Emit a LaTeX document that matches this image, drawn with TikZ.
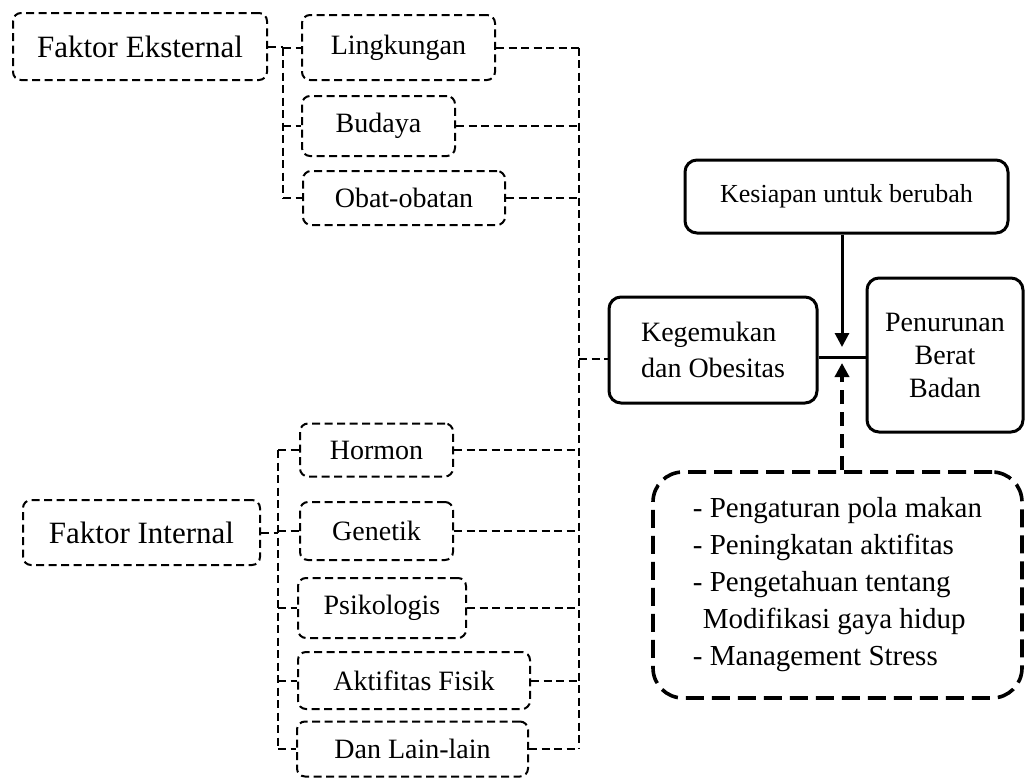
\documentclass[tikz,border=0pt]{standalone}
\usepackage{fontspec}
\setmainfont{Liberation Serif}
\usetikzlibrary{arrows.meta}

\tikzset{
  faktor/.style={draw, line width=2pt, dash pattern=on 8pt off 4.5pt, rounded corners=8pt, inner sep=0pt, font=\fontsize{31}{36}\selectfont},
  sub/.style={draw, line width=2pt, dash pattern=on 8pt off 4.5pt, rounded corners=8pt, inner sep=0pt},
  conn/.style={line width=2pt, dash pattern=on 8pt off 4.5pt},
  solidbox/.style={draw, line width=3pt, rounded corners=12pt, inner sep=0pt},
  bigbox/.style={draw, line width=3.6pt, dash pattern=on 18pt off 8pt, rounded corners=30pt, inner sep=0pt, align=left, font=\fontsize{29}{37}\selectfont},
  tip/.style={-{Triangle[length=14pt,width=14pt]}}
}

\begin{document}
\begin{tikzpicture}[x=1pt, y=-1pt, font=\fontsize{28}{36}\selectfont]
                \useasboundingbox (0,0) rectangle (1025,779);

                \node[faktor, minimum width=254pt, minimum height=67pt] (fe) at (140,46.5) {Faktor Eksternal};
                \node[sub, minimum width=193pt, minimum height=65pt] (ling) at (398.5,47.5) {Lingkungan};
                \node[sub, minimum width=153pt, minimum height=60pt] (bud) at (378.5,126) {Budaya};
                \node[sub, minimum width=202pt, minimum height=54pt] (obat) at (404,198) {Obat-obatan};

                \node[faktor, minimum width=237pt, minimum height=65pt] (fi) at (141.5,532.5) {Faktor Internal};
                \node[sub, minimum width=153pt, minimum height=53pt] (hor) at (376.5,450) {Hormon};
                \node[sub, minimum width=153pt, minimum height=58pt] (gen) at (376.5,531) {Genetik};
                \node[sub, minimum width=168pt, minimum height=60pt] (psi) at (382,608) {Psikologis};
                \node[sub, minimum width=232pt, minimum height=57pt] (akt) at (414,680.5) {Aktifitas Fisik};
                \node[sub, minimum width=231pt, minimum height=55pt] (dll) at (412.5,749) {Dan Lain-lain};

                \node[solidbox, minimum width=208pt, minimum height=106pt, align=left] (kegem) at (713,350) {Kegemukan\\dan Obesitas};
                \node[solidbox, minimum width=323pt, minimum height=73pt, font=\fontsize{26}{32}\selectfont] (kes) at (846.5,196.5) {Kesiapan untuk berubah};
                \node[solidbox, minimum width=156pt, minimum height=154pt, align=center, font=\fontsize{28}{33}\selectfont] (pen) at (945,355) {Penurunan\\Berat\\Badan};
                \node[bigbox, minimum width=369pt, minimum height=226pt] (act) at (837.5,585) {- Pengaturan pola makan\\- Peningkatan aktifitas\\- Pengetahuan tentang\\\hspace*{10pt}Modifikasi gaya hidup\\- Management Stress};

                \coordinate (el) at (283,0);
                \coordinate (il) at (278,0);
                \coordinate (rc) at (579,0);
                \coordinate (j) at (579,359);
                \coordinate (m) at (842,357);

                \draw[conn] (fe.east) -- (fe.east -| el);
                \draw[conn] (ling.west -| el) -- (obat.west -| el);
                \foreach \n in {ling,bud,obat}
                    \draw[conn] (\n.west -| el) -- (\n.west);

                \draw[conn] (fi.east) -- (fi.east -| il);
                \draw[conn] (hor.west -| il) -- (dll.west -| il);
                \foreach \n in {hor,gen,psi,akt,dll}
                    \draw[conn] (\n.west -| il) -- (\n.west);

                \draw[conn] (ling.east -| rc) -- (dll.east -| rc);
                \foreach \n in {ling,bud,obat,hor,gen,psi,akt,dll}
                    \draw[conn] (\n.east) -- (\n.east -| rc);
                \draw[conn] (j) -- (j -| kegem.west);

                \draw[line width=3pt] (kegem.east |- m) -- (pen.west |- m);
                \draw[line width=3pt, tip] (kes.south -| m) -- ([yshift=10pt]m);
                \draw[line width=3.5pt, dash pattern=on 14pt off 8pt, tip] (act.north -| m) -- ([yshift=-6pt]m);
            \end{tikzpicture}
\end{document}
